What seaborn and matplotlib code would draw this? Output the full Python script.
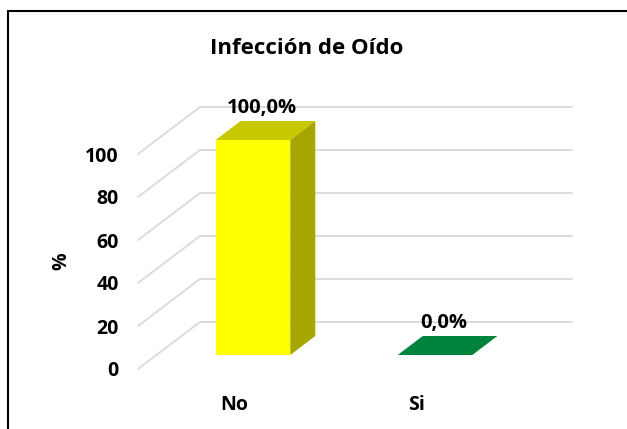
import numpy as np
import matplotlib
matplotlib.use('Agg')
import matplotlib.pyplot as plt
import matplotlib.transforms as mtransforms
from matplotlib.patches import Polygon, Rectangle
import seaborn as sns

# --- datos ---
categorias = ['No', 'Si']
porcentajes = [100.0, 0.0]
etiquetas = ['100,0%', '0,0%']
ticks_y = [0, 20, 40, 60, 80, 100]
titulo = 'Infección de Oído'

# colores (frente, arriba, lado)
col_frente = ['#FFFF00', '#00843D']
col_arriba = ['#C8C800', '#00843D']
col_lado = ['#A6A600', '#006B30']

sns.set_style('white')
plt.rcParams['font.family'] = ['Open Sans', 'DejaVu Sans']
plt.rcParams['font.weight'] = 'bold'
for k in ['text.color', 'axes.labelcolor', 'xtick.color', 'ytick.color']:
    plt.rcParams[k] = 'black'

fig = plt.figure(figsize=(6.27, 4.29), dpi=100)
W, H = 627, 429
# plano frontal del grafico (pared izquierda delantera)
ax = fig.add_axes([138 / W, 60 / H, 372 / W, 215 / H])

sns.barplot(x=categorias, y=porcentajes, hue=categorias, palette=col_frente,
            width=0.41, legend=False, saturation=1, ax=ax)
ax.set_xlim(-0.527, 1.516)
ax.set_ylim(0, 100)
ax.set_yticks(ticks_y)
sns.despine(ax=ax, left=True, bottom=True)
ax.tick_params(length=0)
ax.tick_params(axis='y', pad=14, labelsize=14)
ax.tick_params(axis='x', pad=19, labelsize=14)
ax.set_xlabel('')
ax.set_ylabel('%', fontsize=14, fontweight='bold')
ax.yaxis.set_label_coords(-0.18, 0.5)

# vectores de profundidad (pixeles)
prof = np.array([62, 47])        # profundidad total de la pared
barra_del = np.array([19, 14])   # cara frontal de la barra
barra_fondo = np.array([44, 33]) # cara trasera de la barra

inv = ax.transData.inverted()

def a_datos(pts):
    return inv.transform(np.array(pts))

# lineas de cuadricula: pared lateral + pared de fondo
x0, x1 = ax.get_xlim()
for v in ticks_y:
    pf = ax.transData.transform((x0, v))
    pb = pf + prof
    pr = ax.transData.transform((x1, v)) + prof
    d = a_datos([pf, pb, pr])
    ax.plot(d[:, 0], d[:, 1], color='#DCDCDC', lw=1.4, zorder=0, clip_on=False)

# caras 3D de las barras
for i, p in enumerate(ax.patches):
    p.set_transform(mtransforms.offset_copy(ax.transData, fig=fig,
                                            x=barra_del[0], y=barra_del[1], units='dots'))
    p.set_edgecolor('none')
    p.set_zorder(3)
    p.set_clip_on(False)
    bx, bw, bh = p.get_x(), p.get_width(), p.get_height()
    tl = ax.transData.transform((bx, bh)) + barra_del
    tr = ax.transData.transform((bx + bw, bh)) + barra_del
    br = ax.transData.transform((bx + bw, 0)) + barra_del
    arriba = a_datos([tl, tr, tr + (barra_fondo - barra_del), tl + (barra_fondo - barra_del)])
    ax.add_patch(Polygon(arriba, closed=True, facecolor=col_arriba[i],
                         edgecolor='none', zorder=4, clip_on=False))
    if bh > 0:
        lado = a_datos([br, tr, tr + (barra_fondo - barra_del), br + (barra_fondo - barra_del)])
        ax.add_patch(Polygon(lado, closed=True, facecolor=col_lado[i],
                             edgecolor='none', zorder=4, clip_on=False))

# etiquetas de datos
for i, (v, t) in enumerate(zip(porcentajes, etiquetas)):
    ax.annotate(t, xy=(i, v), xytext=(barra_del[0] + 9, barra_del[1] + 32),
                textcoords='offset pixels', ha='center', va='center',
                fontsize=14.5, fontweight='bold', zorder=5, annotation_clip=False)

fig.text(307 / W, 1 - 49 / H, titulo, ha='center', va='center',
         fontsize=16, fontweight='bold')

# marco del grafico
fig.patches.append(Rectangle((8 / W, -0.1), 1.2, 1 - 11 / H + 0.1,
                             transform=fig.transFigure, fill=False,
                             edgecolor='black', lw=1.5))

fig.savefig('out.png', dpi=100)
